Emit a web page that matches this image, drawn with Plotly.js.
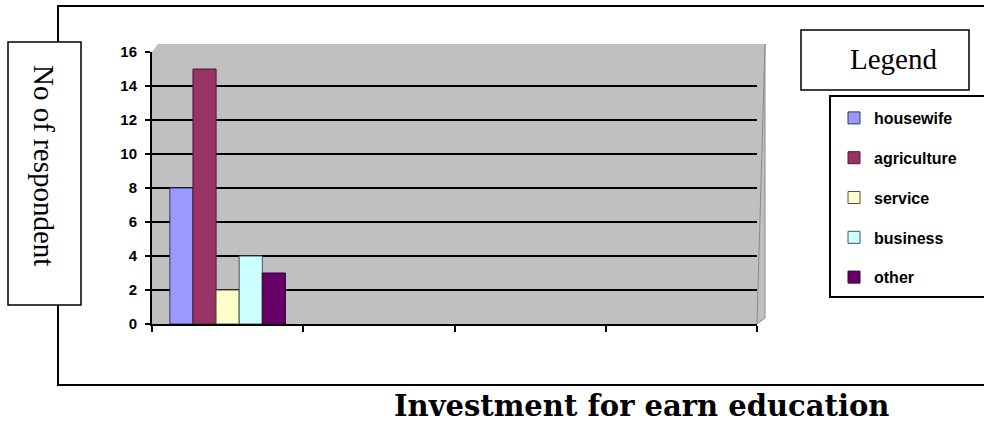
<!DOCTYPE html>
<html>
<head>
<meta charset="utf-8">
<script src="https://cdn.plot.ly/plotly-3.0.1.min.js"></script>
<style>html,body{margin:0;padding:0;background:#fff;}#chart{width:984px;height:427px;}</style>
</head>
<body>
<div id="chart"></div>
<script>
// ---- data ----
const categories = ["1", "2", "3", "4"];
const seriesNames = ["housewife", "agriculture", "service", "business", "other"];
const housewife   = [8, null, null, null];
const agriculture = [15, null, null, null];
const service     = [2, null, null, null];
const business    = [4, null, null, null];
const other       = [3, null, null, null];
const yTickVals = [0, 2, 4, 6, 8, 10, 12, 14, 16];
const yTitle = "No of respondent";
const xTitle = "Investment for earn education";
const legendTitle = "Legend";

// ---- styling ----
const colors = ["#9999ff", "#993366", "#ffffcc", "#ccffff", "#660066"];
const lineColors = ["#333366", "#4d1a33", "#555544", "#445555", "#330033"];
const values = [housewife, agriculture, service, business, other];

// pixel helpers for paper coords (plot area x:152..757, y:52..324)
const L = 152, R = 757, T = 52, B = 324;
const px = x => (x - L) / (R - L);
const py = y => (B - y) / (B - T);

const traces = seriesNames.map((name, i) => ({
  type: "bar",
  name: name,
  x: categories,
  y: values[i],
  legendgroup: name,
  marker: { color: colors[i], line: { color: lineColors[i], width: 1 } },
  hoverinfo: "skip"
}));

function poly(pts) {
  return "M" + pts.map(p => px(p[0]) + "," + py(p[1])).join(" L") + " Z";
}

const layout = {
  width: 984, height: 427,
  margin: { l: L, r: 984 - R, t: T, b: 427 - B, pad: 0 },
  paper_bgcolor: "#ffffff",
  plot_bgcolor: "#c0c0c0",
  barmode: "group",
  bargap: 0.236,
  bargroupgap: 0,
  showlegend: true,
  legend: {
    x: px(834), y: py(101), xanchor: "left", yanchor: "top",
    bgcolor: "rgba(0,0,0,0)", borderwidth: 0,
    traceorder: "grouped", tracegroupgap: 16,
    font: { family: "Arial, Liberation Sans, sans-serif", size: 16, color: "#000", weight: "bold" }
  },
  xaxis: {
    type: "category",
    range: [-0.5, 3.5],
    showticklabels: false,
    tickson: "boundaries",
    ticks: "outside", ticklen: 6, tickwidth: 2, tickcolor: "#000",
    showline: true, linecolor: "#000", linewidth: 2,
    showgrid: false, zeroline: false, fixedrange: true
  },
  yaxis: {
    range: [0, 16],
    tickvals: yTickVals,
    ticks: "outside", ticklen: 5, tickwidth: 2, tickcolor: "#000",
    ticklabelstandoff: 5,
    showline: true, linecolor: "#000", linewidth: 2,
    showgrid: true, gridcolor: "#000", gridwidth: 2,
    zeroline: false,
    tickfont: { family: "Arial, Liberation Sans, sans-serif", size: 15, color: "#000", weight: "bold" },
    fixedrange: true
  },
  shapes: [
    // outer frame
    { type: "rect", xref: "paper", yref: "paper", x0: px(58), x1: px(1000), y0: py(385), y1: py(6),
      line: { color: "#000", width: 2 }, fillcolor: "rgba(0,0,0,0)", layer: "below" },
    // 3D back-wall extension
    { type: "path", xref: "paper", yref: "paper", path: poly([[152,52],[158,44],[765,44],[765,318],[757,324]]),
      fillcolor: "#c0c0c0", line: { width: 0 }, layer: "below" },
    { type: "path", xref: "paper", yref: "paper", path: poly([[757,324],[765,318],[765,44]]),
      fillcolor: "rgba(0,0,0,0)", line: { color: "#8a8a8a", width: 1 }, layer: "below" },
    // y title box
    { type: "rect", xref: "paper", yref: "paper", x0: px(8), x1: px(81), y0: py(305), y1: py(42),
      line: { color: "#000", width: 1.5 }, fillcolor: "#ffffff", layer: "above" },
    // legend title box
    { type: "rect", xref: "paper", yref: "paper", x0: px(801), x1: px(969), y0: py(90), y1: py(30),
      line: { color: "#000", width: 1.5 }, fillcolor: "#ffffff", layer: "above" },
    // legend box
    { type: "rect", xref: "paper", yref: "paper", x0: px(830), x1: px(1000), y0: py(297), y1: py(96),
      line: { color: "#000", width: 2 }, fillcolor: "rgba(0,0,0,0)", layer: "above" }
  ],
  annotations: [
    { text: yTitle, xref: "paper", yref: "paper", x: px(44), y: py(165), showarrow: false,
      textangle: 90, xanchor: "center", yanchor: "middle",
      font: { family: "Times New Roman, Liberation Serif, serif", size: 29, color: "#000" } },
    { text: legendTitle, xref: "paper", yref: "paper", x: px(893), y: py(59), showarrow: false,
      xanchor: "center", yanchor: "middle",
      font: { family: "Times New Roman, Liberation Serif, serif", size: 29, color: "#000" } },
    { text: "<b>" + xTitle + "</b>", xref: "paper", yref: "paper", x: px(641), y: py(406), showarrow: false,
      xanchor: "center", yanchor: "middle",
      font: { family: "Book Antiqua, Palatino Linotype, DejaVu Serif, serif", size: 29, color: "#000" } }
  ]
};

Plotly.newPlot("chart", traces, layout, { displayModeBar: false, staticPlot: true });
</script>
</body>
</html>
